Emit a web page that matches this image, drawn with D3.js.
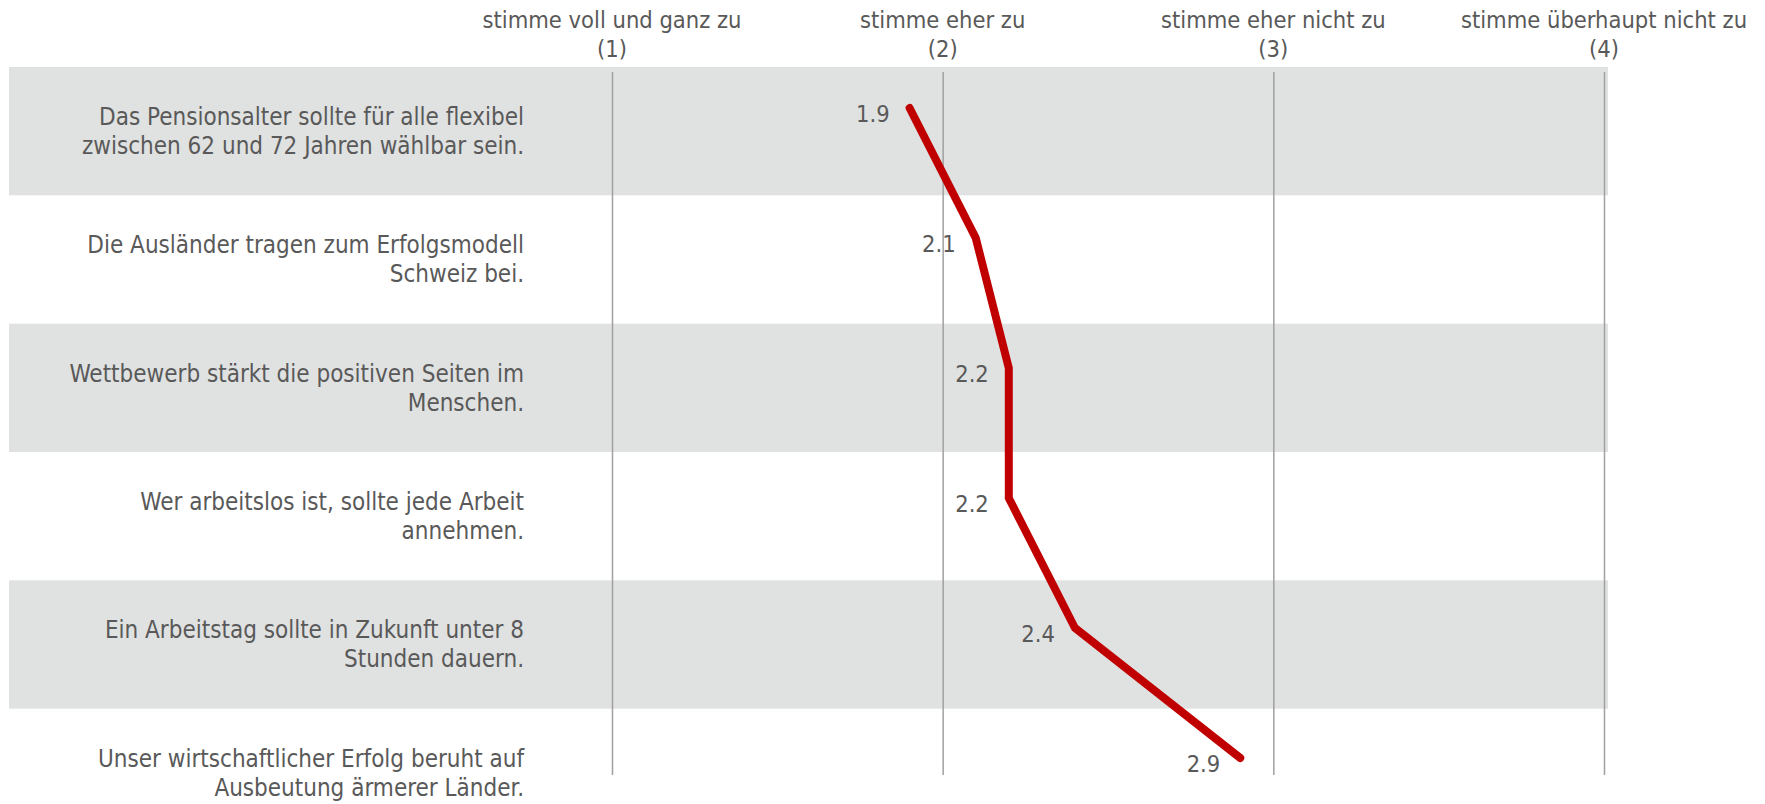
<!DOCTYPE html>
<html><head><meta charset="utf-8">
<script src="https://cdn.jsdelivr.net/npm/d3@7"></script>
<style>
html,body{margin:0;padding:0;background:#fff;}
svg{display:block;}
text{font-family:"DejaVu Sans Condensed","Liberation Sans",sans-serif;fill:#595959;}
</style></head>
<body><svg id="c" width="1765" height="804"></svg>
<script>
const categories = [
  "Das Pensionsalter sollte für alle flexibel|zwischen 62 und 72 Jahren wählbar sein.",
  "Die Ausländer tragen zum Erfolgsmodell|Schweiz bei.",
  "Wettbewerb stärkt die positiven Seiten im|Menschen.",
  "Wer arbeitslos ist, sollte jede Arbeit|annehmen.",
  "Ein Arbeitstag sollte in Zukunft unter 8|Stunden dauern.",
  "Unser wirtschaftlicher Erfolg beruht auf|Ausbeutung ärmerer Länder."
];
const values = [1.9, 2.1, 2.2, 2.2, 2.4, 2.9];
const tickValues = [1, 2, 3, 4];
const tickLabels = ["stimme voll und ganz zu", "stimme eher zu", "stimme eher nicht zu", "stimme überhaupt nicht zu"];

const svg = d3.select("#c");
const fs = 23.5;
const fsRow = 24;

const x = d3.scaleLinear().domain([1, 4]).range([612, 1604]);
const yBand = d3.scaleBand().domain(categories).range([67, 837]).paddingInner(0);
const yPt = d3.scalePoint().domain(categories).range([108, 758]);

// bands
svg.append("g").selectAll("rect").data(categories.filter((d, i) => i % 2 === 0)).join("rect")
  .attr("x", 9).attr("width", 1599)
  .attr("y", d => yBand(d)).attr("height", yBand.bandwidth())
  .attr("fill", "#e0e1e1");

// gridlines via axis
const grid = svg.append("g").attr("transform", "translate(0,72)")
  .call(d3.axisBottom(x).tickValues(tickValues).tickSize(703).tickFormat(""));
grid.select(".domain").remove();
grid.selectAll("line").attr("stroke", "#a0a0a0").attr("stroke-width", 1.5);

// header labels
const hdr = svg.append("g");
tickValues.forEach((t, i) => {
  hdr.append("text").attr("x", x(t)).attr("y", 20).attr("dy", "0.35em")
    .attr("text-anchor", "middle").attr("font-size", fs).text(tickLabels[i]);
  hdr.append("text").attr("x", x(t)).attr("y", 49).attr("dy", "0.35em")
    .attr("text-anchor", "middle").attr("font-size", fs).text("(" + t + ")");
});

// row labels
const rl = svg.append("g");
categories.forEach(c => {
  const lines = c.split("|");
  const cy = yBand(c) + yBand.bandwidth() / 2;
  lines.forEach((l, j) => {
    rl.append("text").attr("x", 524).attr("y", cy + (j - (lines.length - 1) / 2) * 29)
      .attr("dy", "0.35em").attr("text-anchor", "end").attr("font-size", fsRow).text(l);
  });
});

// line
const line = d3.line().x((d, i) => x(d)).y((d, i) => yPt(categories[i]));
svg.append("path").datum(values).attr("d", line)
  .attr("fill", "none").attr("stroke", "#c00000").attr("stroke-width", 8)
  .attr("stroke-linecap", "round").attr("stroke-linejoin", "miter");

// value labels
svg.append("g").selectAll("text").data(values).join("text")
  .attr("x", d => x(d) - 20).attr("y", (d, i) => yPt(categories[i]) + 6)
  .attr("dy", "0.35em").attr("text-anchor", "end").attr("font-size", fs)
  .text(d => d.toFixed(1));
</script></body></html>
